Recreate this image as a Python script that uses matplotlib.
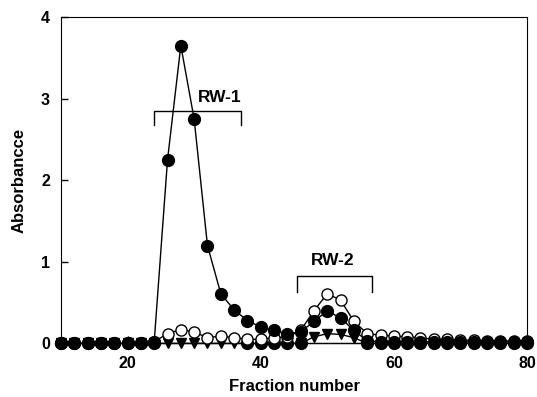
import matplotlib.pyplot as plt
import numpy as np

plt.rcParams['font.family'] = ['Liberation Sans', 'DejaVu Sans']
plt.rcParams['font.weight'] = 'bold'

# fractions 10..80, every second tube
fractions = list(range(10, 81, 2))

# filled circles (main peak)
filled = [0, 0, 0, 0, 0, 0, 0, 0.02, 2.25, 3.65, 2.75, 1.2, 0.61, 0.41, 0.28, 0.2,
          0.16, 0.12, 0.14, 0.27, 0.4, 0.31, 0.16, 0.03, 0.02, 0.02, 0.02, 0.02,
          0.02, 0.02, 0.02, 0.02, 0.02, 0.02, 0.02, 0.02]

# open circles
open_c = [0, 0, 0, 0, 0, 0, 0, 0.02, 0.12, 0.17, 0.14, 0.07, 0.09, 0.07, 0.05, 0.05,
          0.07, 0.08, 0.16, 0.4, 0.61, 0.53, 0.27, 0.12, 0.1, 0.09, 0.08, 0.07,
          0.05, 0.05, 0.04, 0.04, 0.03, 0.03, 0.03, 0.03]

# down triangles
tri = [0, 0, 0, 0, 0, 0, 0, 0, 0, 0, 0, 0, 0, 0, 0, 0,
       0, 0, 0, 0.08, 0.12, 0.11, 0.07, 0, 0, 0, 0, 0,
       0, 0, 0, 0, 0, 0, 0, 0]

# baseline filled series (not read where hidden)
base_x = [10, 12, 14, 16, 18, 20, 22, 24, 38, 40, 42, 44, 46, 56, 58, 60, 62, 64,
          66, 68, 70, 72, 74, 76, 78, 80]
base_y = [0] * len(base_x)

fig = plt.figure(figsize=(5.37, 3.97), dpi=100)
ax = fig.add_axes([0.1136, 0.135, 0.8678, 0.822])

ax.plot(base_x, base_y, '-o', color='black', lw=1, markersize=8.5, clip_on=False, zorder=2)
ax.plot(fractions, tri, '-v', color='black', lw=1, markersize=7.5, clip_on=False, zorder=3)
ax.plot(fractions, open_c, '-o', color='black', mfc='white', lw=1, markersize=8,
        clip_on=False, zorder=4)
ax.plot(fractions, filled, '-o', color='black', lw=1, markersize=8.5, clip_on=False, zorder=5)

# brackets
ax.plot([24, 24, 37, 37], [2.68, 2.85, 2.85, 2.68], color='black', lw=1)
ax.text(33.8, 3.02, 'RW-1', ha='center', va='center', fontsize=12.5, fontweight='bold')
ax.plot([45.4, 45.4, 56.7, 56.7], [0.63, 0.83, 0.83, 0.63], color='black', lw=1)
ax.text(50.8, 1.02, 'RW-2', ha='center', va='center', fontsize=12.5, fontweight='bold')

ax.set_xlim(10, 80)
ax.set_ylim(0, 4)
ax.set_xticks([20, 40, 60, 80])
ax.set_yticks([0, 1, 2, 3, 4])
ax.tick_params(direction='in', length=5, width=1, labelsize=11.5)
ax.tick_params(axis='x', pad=9)
ax.tick_params(axis='y', pad=8)
for lab in ax.get_xticklabels() + ax.get_yticklabels():
    lab.set_fontweight('bold')
ax.set_xlabel('Fraction number', fontsize=12, fontweight='bold', labelpad=6)
ax.set_ylabel('Absorbancce', fontsize=12, fontweight='bold', labelpad=10)

fig.savefig('out.png', dpi=100)
